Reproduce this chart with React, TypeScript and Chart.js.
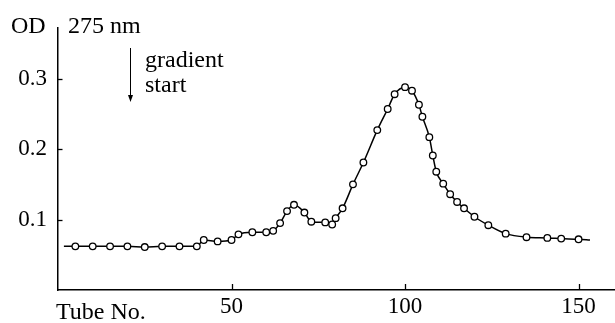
import React, { useEffect, useRef } from "react";
import { Chart, registerables } from "chart.js";

Chart.register(...registerables);

// Measured fractions: tube number vs optical density at 275 nm
const tubeNo = [5, 10, 15, 20, 25, 30, 35, 40, 42, 46, 50, 52, 56, 60, 62, 64, 66, 68, 71, 73, 77, 79, 80, 82, 85, 88, 92, 95, 97, 100, 102, 104, 105, 107, 108, 109, 111, 113, 115, 117, 120, 124, 129, 135, 141, 145, 150];
const od = [0.062, 0.062, 0.062, 0.062, 0.061, 0.062, 0.062, 0.062, 0.071, 0.069, 0.071, 0.079, 0.082, 0.082, 0.084, 0.095, 0.112, 0.121, 0.110, 0.097, 0.096, 0.093, 0.102, 0.116, 0.150, 0.181, 0.227, 0.257, 0.278, 0.288, 0.283, 0.263, 0.246, 0.217, 0.191, 0.168, 0.151, 0.136, 0.125, 0.116, 0.104, 0.092, 0.080, 0.075, 0.074, 0.073, 0.072];
// The drawn curve extends a little beyond the first and last marked tubes
const curveStart = { tube: 1.7, od: 0.062 };
const curveEnd = { tube: 153.3, od: 0.071 };

const xTicks = [50, 100, 150];
const yTicks = [0.1, 0.2, 0.3];
const xMin = 0;
const xMax = 160.5;
const yMin = 0;
const yMax = 0.372;

const yAxisLabel = "OD";
const wavelengthLabel = "275 nm";
const xAxisLabel = "Tube No.";
const gradientLines = ["gradient", "start"];

const FONT = '"Liberation Serif", "Times New Roman", serif';

export default function App() {
  const ref = useRef<HTMLCanvasElement | null>(null);

  useEffect(() => {
    const canvas = ref.current;
    if (!canvas) return;

    const points = tubeNo.map((t, i) => ({ x: t, y: od[i] }));
    const curve = [{ x: curveStart.tube, y: curveStart.od }, ...points, { x: curveEnd.tube, y: curveEnd.od }];

    const decor = {
      id: "decor",
      afterDraw(chart: any) {
        const ctx = chart.ctx;
        const xs = chart.scales.x;
        const ys = chart.scales.y;
        const area = chart.chartArea;
        ctx.save();
        ctx.strokeStyle = "#000";
        ctx.lineWidth = 1.3;
        // inward tick marks
        yTicks.forEach((v) => {
          const y = Math.round(ys.getPixelForValue(v)) + 0.5;
          ctx.beginPath();
          ctx.moveTo(area.left, y);
          ctx.lineTo(area.left + 4.5, y);
          ctx.stroke();
        });
        xTicks.forEach((v) => {
          const x = Math.round(xs.getPixelForValue(v)) + 0.5;
          ctx.beginPath();
          ctx.moveTo(x, area.bottom);
          ctx.lineTo(x, area.bottom - 6);
          ctx.stroke();
        });
        // texts
        ctx.fillStyle = "#000";
        ctx.textBaseline = "alphabetic";
        ctx.textAlign = "left";
        ctx.font = `24px ${FONT}`;
        ctx.fillText(yAxisLabel, 11, 33);
        ctx.fillText(wavelengthLabel, 68, 33);
        ctx.fillText(xAxisLabel, 56, 319);
        ctx.fillText(gradientLines[0], 145, 67);
        ctx.fillText(gradientLines[1], 145, 92);
        // arrow
        ctx.lineWidth = 1;
        ctx.beginPath();
        ctx.moveTo(130.5, 48);
        ctx.lineTo(130.5, 100);
        ctx.stroke();
        ctx.beginPath();
        ctx.moveTo(128, 95);
        ctx.lineTo(130.5, 102);
        ctx.lineTo(133, 95);
        ctx.closePath();
        ctx.fill();
        ctx.restore();
      },
    };

    const chart = new Chart(canvas, {
      type: "scatter",
      data: {
        datasets: [
          {
            data: points,
            showLine: false,
            pointRadius: 3.3,
            pointBorderWidth: 1.3,
            pointBorderColor: "#000",
            pointBackgroundColor: "#fff",
            clip: false,
          },
          {
            data: curve,
            showLine: true,
            borderColor: "#000",
            borderWidth: 1.5,
            pointRadius: 0,
            cubicInterpolationMode: "monotone",
            fill: false,
            clip: false,
          },
        ],
      } as any,
      options: {
        animation: false,
        responsive: false,
        maintainAspectRatio: false,
        events: [],
        layout: { autoPadding: false, padding: { top: 28, left: 0, right: 0, bottom: 0 } },
        plugins: { legend: { display: false }, tooltip: { enabled: false } },
        scales: {
          x: {
            type: "linear",
            min: xMin,
            max: xMax,
            afterBuildTicks: (s: any) => {
              s.ticks = xTicks.map((v) => ({ value: v }));
            },
            afterFit: (s: any) => {
              s.height = 33;
            },
            grid: { display: true, drawOnChartArea: false, drawTicks: false },
            border: { display: true, color: "#000", width: 1.5 },
            ticks: {
              color: "#000",
              font: { family: FONT, size: 23 },
              padding: 3,
              maxRotation: 0,
              callback: (v: any) => String(v),
            },
          },
          y: {
            type: "linear",
            min: yMin,
            max: yMax,
            afterBuildTicks: (s: any) => {
              s.ticks = yTicks.map((v) => ({ value: v }));
            },
            afterFit: (s: any) => {
              s.width = 58;
            },
            grid: { display: true, drawOnChartArea: false, drawTicks: false },
            border: { display: true, color: "#000", width: 1.5 },
            ticks: {
              color: "#000",
              font: { family: FONT, size: 23 },
              padding: 11,
              callback: (v: any) => Number(v).toFixed(1),
            },
          },
        },
      } as any,
      plugins: [decor],
    });

    return () => chart.destroy();
  }, []);

  return (
    <div style={{ position: "fixed", left: 0, top: 0, width: 615, height: 323, background: "#fff" }}>
      <canvas ref={ref} width={615} height={323} style={{ width: 615, height: 323, display: "block" }} />
    </div>
  );
}
